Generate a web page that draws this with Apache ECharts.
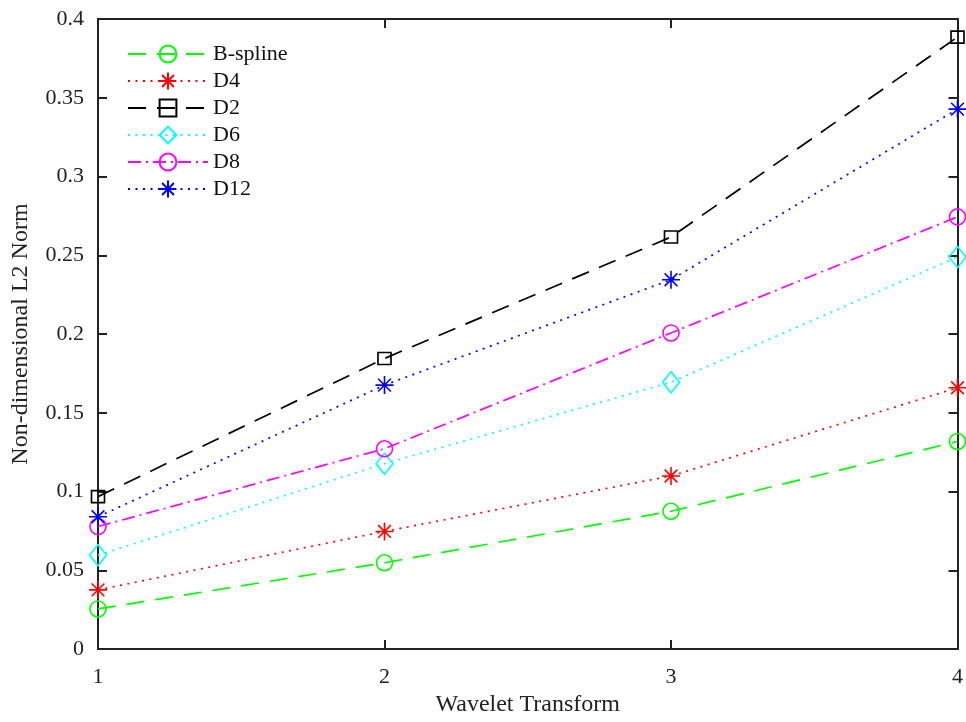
<!DOCTYPE html>
<html>
<head>
<meta charset="utf-8">
<script src="https://cdn.jsdelivr.net/npm/echarts@6/dist/echarts.min.js"></script>
<style>
  html, body { margin: 0; padding: 0; background: #fff; }
  #chart { width: 966px; height: 722px; }
</style>
</head>
<body>
<div id="chart"></div>
<script>
// Wavelet transform index on the x axis
const transforms = [1, 2, 3, 4];

// Non-dimensional L2 norm per wavelet family
const bSpline = [0.0255, 0.0548, 0.0875, 0.1318];
const d4      = [0.0376, 0.0747, 0.1099, 0.1659];
const d2      = [0.0968, 0.1845, 0.2616, 0.3885];
const d6      = [0.0596, 0.1177, 0.1694, 0.2489];
const d8      = [0.0778, 0.1272, 0.2007, 0.2744];
const d12     = [0.0840, 0.1676, 0.2345, 0.3428];

const yTicks = [0, 0.05, 0.1, 0.15, 0.2, 0.25, 0.3, 0.35, 0.4];

const FONT = '"Liberation Serif", "Times New Roman", serif';
const ASTERISK = 'path://M0,-10L0,10M-10,0L10,0M-7.07,-7.07L7.07,7.07M-7.07,7.07L7.07,-7.07';

function pairs(values) {
  return transforms.map((x, i) => [x, values[i]]);
}

function lineSeries(name, values, color, dash, symbol, size) {
  return {
    name: name,
    type: 'line',
    xAxisIndex: 0,
    yAxisIndex: 0,
    data: pairs(values),
    symbol: symbol,
    symbolSize: size,
    showAllSymbol: true,
    animation: false,
    lineStyle: { color: color, width: 1.7, type: dash, cap: 'butt' },
    itemStyle: { color: 'rgba(0,0,0,0)', borderColor: color, borderWidth: 1.6 },
    emphasis: { disabled: true }
  };
}

const series = [
  lineSeries('B-spline', bSpline, '#00ff00', [18, 11], 'circle', 16),
  lineSeries('D4',       d4,      '#ff0000', [2, 5.5], ASTERISK, 18),
  lineSeries('D2',       d2,      '#000000', [18, 11], 'rect', [13, 12]),
  lineSeries('D6',       d6,      '#00ffff', [2, 5.5], 'diamond', [17, 21]),
  lineSeries('D8',       d8,      '#ff00ff', [13, 5, 2, 5], 'circle', 16),
  lineSeries('D12',      d12,     '#0000ff', [2, 5.5], ASTERISK, 18)
];

const axisLine = { show: true, onZero: false, lineStyle: { color: '#222', width: 2 } };
const axisTick = { show: true, inside: true, length: 9, lineStyle: { color: '#222', width: 2 } };

const option = {
  backgroundColor: '#ffffff',
  animation: false,
  grid: { left: 98, right: 7, top: 19, bottom: 72, containLabel: false },
  legend: {
    orient: 'vertical',
    left: 122,
    top: 38,
    itemWidth: 80,
    itemHeight: 21,
    itemGap: 5,
    selectedMode: false,
    textStyle: { fontFamily: FONT, fontSize: 22, color: '#111' },
    data: series.map(s => s.name)
  },
  xAxis: [
    {
      type: 'value', position: 'bottom', min: 1, max: 4, interval: 1,
      name: 'Wavelet Transform', nameLocation: 'middle', nameGap: 42,
      nameTextStyle: { fontFamily: FONT, fontSize: 24, color: '#222' },
      axisLine: axisLine, axisTick: axisTick,
      axisLabel: { fontFamily: FONT, fontSize: 22, color: '#222', margin: 17 },
      splitLine: { show: false }
    },
    {
      type: 'value', position: 'top', min: 1, max: 4, interval: 1,
      axisLine: axisLine, axisTick: axisTick,
      axisLabel: { show: false }, splitLine: { show: false }
    }
  ],
  yAxis: [
    {
      type: 'value', position: 'left', min: yTicks[0], max: yTicks[yTicks.length - 1], interval: 0.05,
      name: 'Non-dimensional L2 Norm', nameLocation: 'middle', nameGap: 65,
      nameTextStyle: { fontFamily: FONT, fontSize: 24, color: '#222' },
      axisLine: axisLine, axisTick: axisTick,
      axisLabel: {
        fontFamily: FONT, fontSize: 22, color: '#222', margin: 14,
        formatter: v => String(+v.toFixed(2))
      },
      splitLine: { show: false }
    },
    {
      type: 'value', position: 'right', min: yTicks[0], max: yTicks[yTicks.length - 1], interval: 0.05,
      axisLine: axisLine, axisTick: axisTick,
      axisLabel: { show: false }, splitLine: { show: false }
    }
  ],
  series: series
};

const chart = echarts.init(document.getElementById('chart'), null, { renderer: 'canvas' });
chart.setOption(option);
</script>
</body>
</html>
